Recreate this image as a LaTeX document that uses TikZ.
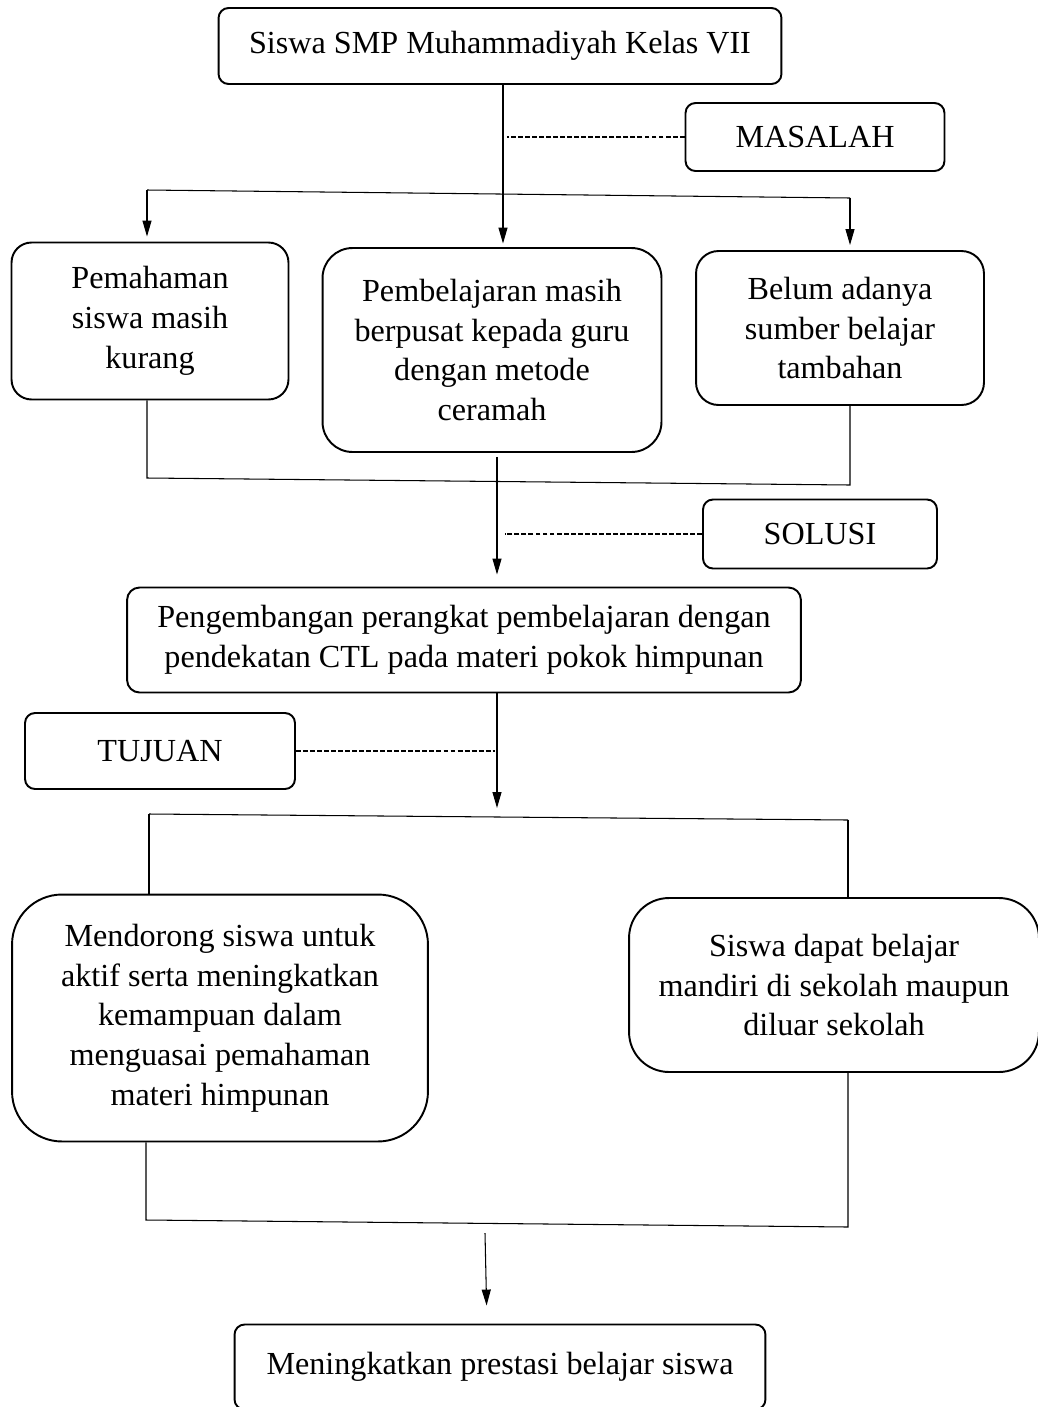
\documentclass[tikz,border=0pt]{standalone}
\usepackage{fontspec}
\setmainfont{Liberation Serif}
\usetikzlibrary{arrows.meta,calc}

\begin{document}
\begin{tikzpicture}[
      x=0.02cm, y=-0.02cm,
      kotak/.style={draw,line width=1.1pt,align=center,inner sep=0pt,
        font=\fontsize{18.3}{22.6}\selectfont},
      garis/.style={line width=0.6pt},
      panah/.style={garis,-{Triangle[length=0.32cm,width=0.18cm]}},
      putus/.style={line width=0.6pt,dash pattern=on 2.8pt off 1.2pt},
    ]
    \useasboundingbox (0,0) rectangle (1038,1407);
    \node[kotak,rounded corners=0.2cm,minimum width=11.26cm,minimum height=1.52cm] (atas) at (500,46) {Siswa SMP Muhammadiyah Kelas VII};
    \node[kotak,rounded corners=0.2cm,minimum width=5.18cm,minimum height=1.36cm] (masalah) at (815,137) {MASALAH};
    \node[kotak,rounded corners=0.4cm,minimum width=5.54cm,minimum height=3.14cm] (paham) at (150,321) {Pemahaman\\siswa masih\\kurang};
    \node[kotak,rounded corners=0.6cm,minimum width=6.78cm,minimum height=4.08cm] (pusat) at (492,350) {Pembelajaran masih\\berpusat kepada guru\\dengan metode\\ceramah};
    \node[kotak,rounded corners=0.45cm,minimum width=5.76cm,minimum height=3.08cm] (sumber) at (840,328) {Belum adanya\\sumber belajar\\tambahan};
    \node[kotak,rounded corners=0.2cm,minimum width=4.68cm,minimum height=1.38cm] (solusi) at (820,534) {SOLUSI};
    \node[kotak,rounded corners=0.25cm,minimum width=13.48cm,minimum height=2.10cm] (kembang) at (464,640) {Pengembangan perangkat pembelajaran dengan\\pendekatan CTL pada materi pokok himpunan};
    \node[kotak,rounded corners=0.2cm,minimum width=5.4cm,minimum height=1.52cm] (tujuan) at (160,751) {TUJUAN};
    \node[kotak,rounded corners=1.0cm,minimum width=8.32cm,minimum height=4.94cm] (dorong) at (220,1018) {Mendorong siswa untuk\\aktif serta meningkatkan\\kemampuan dalam\\menguasai pemahaman\\materi himpunan};
    \node[kotak,rounded corners=0.8cm,minimum width=8.2cm,minimum height=3.48cm] (mandiri) at (834,985) {Siswa dapat belajar\\mandiri di sekolah maupun\\diluar sekolah};
    \node[kotak,rounded corners=0.2cm,minimum width=10.62cm,minimum height=1.7cm] (prestasi) at (500,1367) {Meningkatkan prestasi belajar siswa};
    \coordinate (c1) at (147,190);
    \coordinate (c2) at (850,198);
    \coordinate (d1) at (147,478);
    \coordinate (d2) at (850,485);
    \coordinate (t3) at (497,808);
    \coordinate (f1) at (149,814);
    \coordinate (f2) at (848,820);
    \coordinate (g1) at (146,1220);
    \coordinate (g2) at (848,1227);
    \coordinate (h1) at (485,1233);
    \draw[panah,shorten >=2pt] (atas.south -| 503,0) -- (pusat.north -| 503,0);
    \draw[putus] (masalah.west) -- (masalah.west -| 507,0);
    \draw[garis] (c1) -- (c2);
    \draw[panah,shorten >=0.1cm] (c1) -- (c1 |- paham.north);
    \draw[panah,shorten >=0.1cm] (c2) -- (c2 |- sumber.north);
    \draw[garis] (paham.south -| d1) -- (d1) -- (d2) -- (sumber.south -| d2);
    \draw[panah,shorten >=0.24cm] ($(pusat.south)+(5,4)$) -- (kembang.north -| 497,0);
    \draw[putus] (solusi.west) -- (solusi.west -| 505,0);
    \draw[panah] (kembang.south -| t3) -- (t3);
    \draw[putus] (tujuan.east) -- (tujuan.east -| 495,0);
    \draw[garis] (f1) -- (f2);
    \draw[garis] (f1) -- (f1 |- dorong.north);
    \draw[garis] (f2) -- (f2 |- mandiri.north);
    \draw[garis] (dorong.south -| g1) -- (g1) -- (g2) -- (mandiri.south -| g2);
    \draw[panah,shorten >=0.36cm] (h1) -- (prestasi.north -| 487,0);
  \end{tikzpicture}
\end{document}
